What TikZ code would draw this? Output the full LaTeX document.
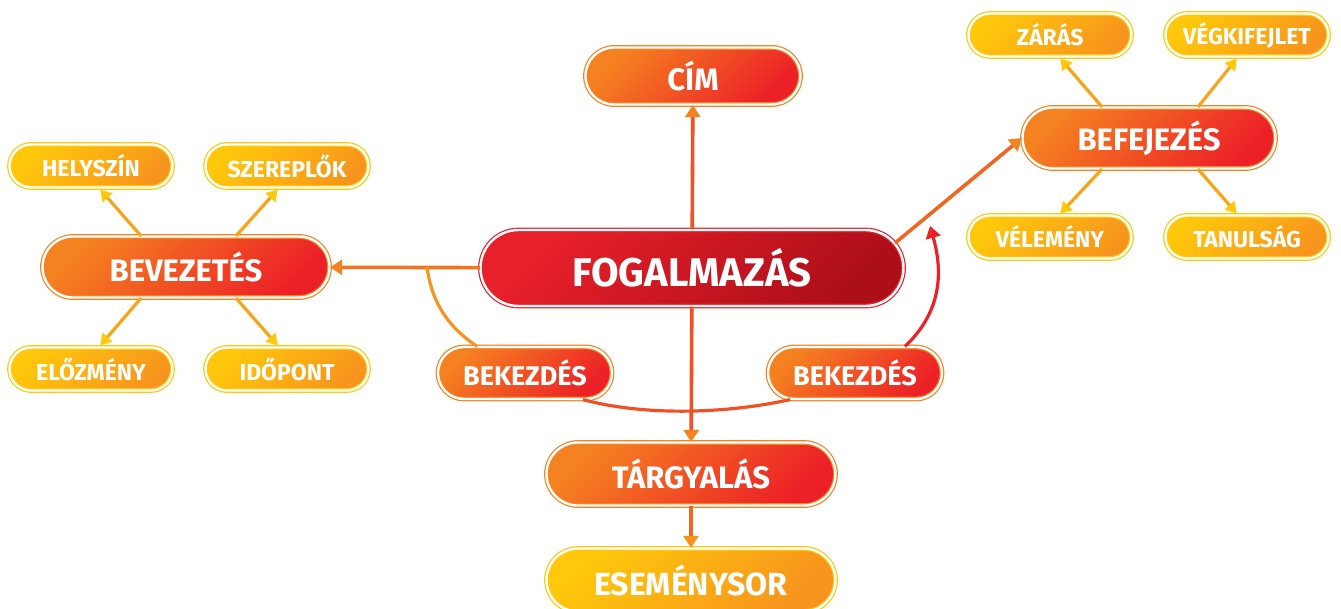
\documentclass[tikz,border=0pt]{standalone}
\usepackage{fontspec}
\setsansfont{Fira Sans}
\usepackage{tikz}
\usetikzlibrary{shapes.misc,arrows.meta}

\definecolor{fogred}{HTML}{E8202A}
\definecolor{fogdark}{HTML}{AD0F19}
\definecolor{midorange}{HTML}{F58220}
\definecolor{midred}{HTML}{EC2027}
\definecolor{subyellow}{HTML}{FFC80B}
\definecolor{suborange}{HTML}{F7941D}

\begin{document}
\begin{tikzpicture}
		[x=1pt,y=-1pt,
		 box/.style= {rounded rectangle,inner sep=0pt,line width=1.2pt,double=white,double distance=2.4pt,text=white},
		 main/.style= {box,draw=fogred,left color=fogred,right color=fogdark,shading angle=45,minimum width=423pt,minimum height=76pt,font=\sffamily\bfseries\fontsize{40}{42}\selectfont},
		 mid/.style= {box,draw=midorange,left color=midorange,right color=midred,shading angle=45,minimum height=61pt,font=\sffamily\bfseries\fontsize{31}{33}\selectfont},
		 sub/.style= {box,draw=subyellow,left color=subyellow,right color=suborange,shading angle=45,minimum width=163pt,minimum height=43pt,font=\sffamily\bfseries\fontsize{23}{25}\selectfont},
		 bigarrow/.style= {line width=3.6pt,>={Triangle[width=15pt,length=12pt,color=midorange]}},
		 subarrow/.style= {line width=3.2pt,draw=suborange!70!subyellow,-{Triangle[width=13pt,length=11pt,color=subyellow]},shorten >=2pt}]

		\useasboundingbox (0,0) rectangle (1341,608);

		\node[main] (fog) at (692,268) {FOGALMAZÁS}
		;

		\node[mid,minimum width=215pt,minimum height=57pt] (cim) at (693,76) {CÍM}
			edge [bigarrow,<-,draw=midred!50!midorange]	(fog)
		;

		\node[mid,minimum width=287pt] (bev) at (186,267) {BEVEZETÉS}
			edge [bigarrow,<-,draw=midorange!85!midred]	(fog)
		;

		\node[mid,minimum width=253pt] (bef) at (1149,138) {BEFEJEZÉS}
		;

		\node[mid,minimum width=289pt,minimum height=63pt] (tar) at (691,474) {TÁRGYALÁS}
			edge [bigarrow,<-,draw=midred!50!midorange]	(fog)
		;

		\node[sub,minimum width=289pt,minimum height=63pt,font=\sffamily\bfseries\fontsize{32}{34}\selectfont] (esem) at (691,580) {ESEMÉNYSOR}
			edge [bigarrow,<-,draw=midred!40!suborange,>={Triangle[width=15pt,length=12pt,color=suborange]}]	(tar)
		;

		\node[mid,minimum width=174pt,minimum height=52pt,font=\sffamily\bfseries\fontsize{27}{29}\selectfont] (bek1) at (525,373) {BEKEZDÉS}
		;

		\node[mid,minimum width=174pt,minimum height=52pt,font=\sffamily\bfseries\fontsize{27}{29}\selectfont] (bek2) at (855,373) {BEKEZDÉS}
		;

		% bevezetes
		\node[sub] (hely) at (91,166) {HELYSZÍN};
		\node[sub] (szer) at (287,166) {SZEREPLŐK};
		\node[sub] (eloz) at (91,369) {ELŐZMÉNY};
		\node[sub] (idop) at (287,369) {IDŐPONT};

		% befejezes
		\node[sub] (zar) at (1050,35) {ZÁRÁS};
		\node[sub] (vegk) at (1247,35) {VÉGKIFEJLET};
		\node[sub] (vel) at (1050,237) {VÉLEMÉNY};
		\node[sub] (tan) at (1247,237) {TANULSÁG};

		\draw[subarrow] ([xshift=-45pt]bev.north) -- ([xshift=8pt]hely.south);
		\draw[subarrow] ([xshift=50pt]bev.north) -- ([xshift=-8pt]szer.south);
		\draw[subarrow] ([xshift=-45pt]bev.south) -- ([xshift=8pt]eloz.north);
		\draw[subarrow] ([xshift=50pt]bev.south) -- ([xshift=-8pt]idop.north);

		\draw[subarrow] ([xshift=-47pt]bef.north) -- ([xshift=9pt]zar.south);
		\draw[subarrow] ([xshift=49pt]bef.north) -- ([xshift=-9pt]vegk.south);
		\draw[subarrow] ([xshift=-47pt]bef.south) -- ([xshift=9pt]vel.north);
		\draw[subarrow] ([xshift=49pt]bef.south) -- ([xshift=-9pt]tan.north);

		\draw[bigarrow,->,draw=midorange!70!midred] (fog.7) -- (bef.west);

		% bekezdesek
		\coordinate (split) at (427,267);
		\coordinate (bekend) at (930,226);

		\draw[line width=3.2pt,draw=suborange] (split) .. controls (432,305) and (450,328) .. ([xshift=-48pt]bek1.north);
		\draw[line width=3.2pt,draw=midorange!50!midred] ([xshift=58pt]bek1.south) .. controls (640,415) and (720,415) .. ([xshift=-65pt]bek2.south);
		\draw[line width=3.2pt,draw=midred,-{Triangle[width=15pt,length=12pt]}] ([xshift=50pt]bek2.north) .. controls (935,318) and (946,282) .. (bekend);

	\end{tikzpicture}
\end{document}
